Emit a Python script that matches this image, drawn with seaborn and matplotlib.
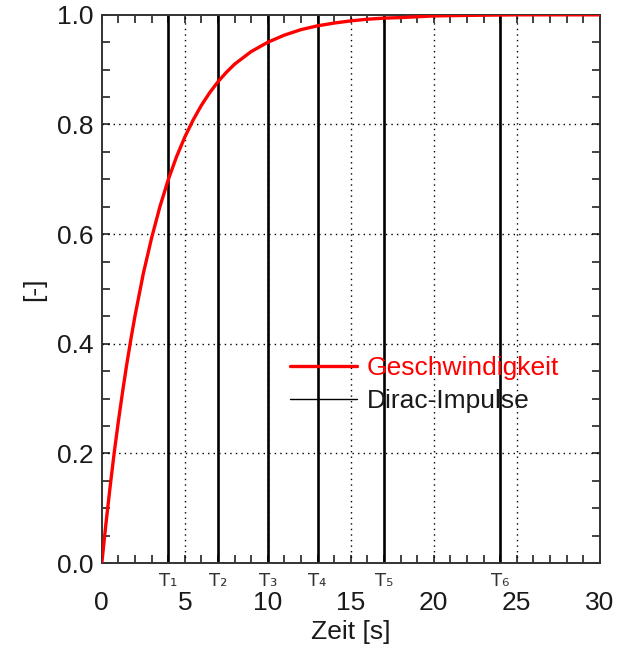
import matplotlib
matplotlib.use("Agg")
import matplotlib.pyplot as plt
import seaborn as sns
import pandas as pd
from matplotlib.ticker import MultipleLocator

# data
time_s = [0, 0.25, 0.5, 0.75, 1, 1.25, 1.5, 1.75, 2, 2.5, 3, 3.5, 4, 4.5, 5, 5.5, 6, 6.5, 7, 7.5, 8, 9, 10, 11, 12, 13, 14, 15, 16, 17, 18, 20, 22, 25, 30]
speed = [0.0, 0.072, 0.139, 0.202, 0.259, 0.312, 0.362, 0.408, 0.451, 0.528, 0.593, 0.650, 0.699,
         0.741, 0.777, 0.808, 0.835, 0.858, 0.878, 0.895, 0.910, 0.933, 0.950, 0.963, 0.973,
         0.980, 0.985, 0.989, 0.992, 0.994, 0.995, 0.998, 0.999, 1.0, 1.0]
impulse_times = [4, 7, 10, 13, 17, 24]
impulse_labels = ["T₁", "T₂", "T₃", "T₄", "T₅", "T₆"]
x_ticks = [0, 5, 10, 15, 20, 25, 30]
y_ticks = [0.0, 0.2, 0.4, 0.6, 0.8, 1.0]

sns.set_style("ticks")
plt.rcParams["font.family"] = ["Liberation Sans", "DejaVu Sans"]

fig = plt.figure(figsize=(6.17, 6.45), dpi=100)
ax = fig.add_axes([0.165, 0.127, 0.807, 0.850])

df = pd.DataFrame({"t": time_s, "v": speed})

# grid
for xv in x_ticks[1:-1]:
    ax.axvline(xv, color="black", lw=1.0, ls=(0, (1, 3)), zorder=1)
for yv in y_ticks[1:-1]:
    ax.axhline(yv, color="black", lw=1.0, ls=(0, (1, 3)), zorder=1)

ax.vlines(impulse_times, 0, 1, color="black", lw=1.9, zorder=2)
sns.lineplot(data=df, x="t", y="v", ax=ax, color="red", lw=2.4, zorder=3, label="Geschwindigkeit")
ax.plot([], [], color="black", lw=1.0, label="Dirac-Impulse")

ax.set_xlim(0, 30)
ax.set_ylim(0, 1)
ax.set_xticks(x_ticks)
ax.set_yticks(y_ticks)
ax.set_xticklabels([str(v) for v in x_ticks])
ax.set_yticklabels([f"{v:.1f}" for v in y_ticks])
ax.xaxis.set_minor_locator(MultipleLocator(1))
ax.yaxis.set_minor_locator(MultipleLocator(0.05))
ax.tick_params(which="both", direction="in", top=True, right=True, length=6, width=1.2,
               color="#222222", labelsize=19, labelcolor="#1a1a1a")
ax.tick_params(axis="x", which="major", pad=20)
ax.tick_params(axis="y", which="major", pad=6)
for s in ax.spines.values():
    s.set_linewidth(1.4)
    s.set_color("#333333")

ax.set_xlabel("Zeit [s]", fontsize=19, labelpad=4, color="#1a1a1a")
ax.set_ylabel("[-]", fontsize=19, labelpad=8, color="#1a1a1a")

for t, lab in zip(impulse_times, impulse_labels):
    ax.text(t, -0.016, lab, ha="center", va="top", fontsize=13, color="#333333",
            transform=ax.get_xaxis_transform(), family=["DejaVu Sans"])

leg = ax.legend(loc="center left", bbox_to_anchor=(0.3775, 0.3257), frameon=False,
                fontsize=19, handlelength=2.54, handletextpad=0.38, labelspacing=0.33,
                borderpad=0, borderaxespad=0,
                labelcolor=["red", "#1a1a1a"])

fig.savefig("out.png", dpi=100)
